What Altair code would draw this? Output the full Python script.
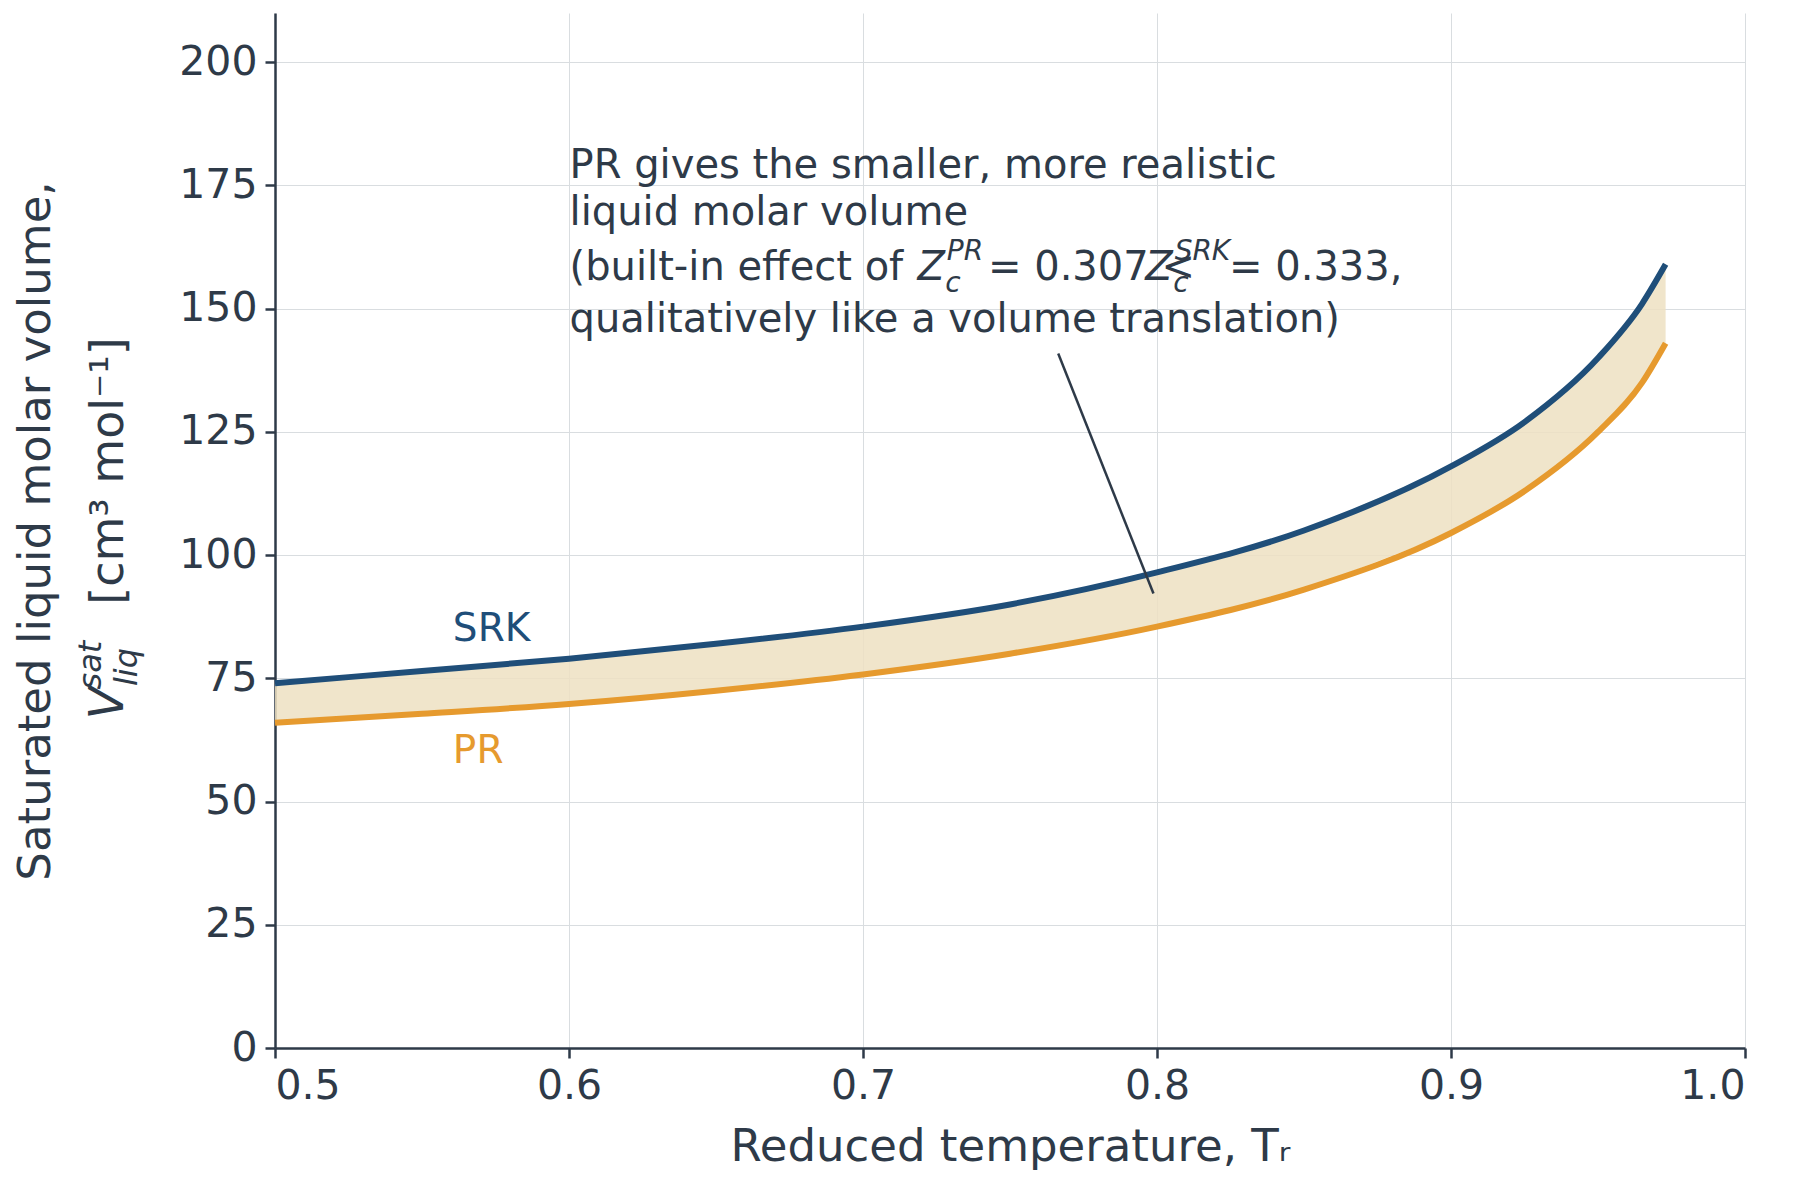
import altair as alt
import pandas as pd

TEXT = "#2E3A48"
SRK_C = "#1F4E79"
PR_C = "#E69A2E"
BAND = "#EDE1C2"
GRID = "#D9DDE0"
FONT = "DejaVu Sans"

tr = [0.5, 0.55, 0.6, 0.65, 0.7, 0.75, 0.8, 0.85, 0.9, 0.925, 0.95, 0.965, 0.973]
v_srk = [74, 76.5, 79, 82, 85.5, 90, 96.5, 105, 118, 127, 140, 151, 159]
v_pr = [66, 67.8, 69.8, 72.5, 75.8, 80, 85.5, 93, 104.5, 113, 125, 135, 143]

df = pd.DataFrame({"Tr": tr, "SRK": v_srk, "PR": v_pr})

W, H = 1470, 1035

xs = alt.Scale(domain=[0.5, 1.0], nice=False)
ys = alt.Scale(domain=[0, 210], nice=False)

x_ax = alt.Axis(values=[0.5, 0.6, 0.7, 0.8, 0.9, 1.0], format=".1f", labelFontSize=41,
                titleFontSize=45, labelColor=TEXT, titleColor=TEXT, domainColor=TEXT,
                tickColor=TEXT, tickSize=10, domainWidth=2.5, tickWidth=2.5, gridColor=GRID,
                labelPadding=8, titlePadding=18, titleFontWeight="normal", labelFont=FONT, titleFont=FONT)
y_ax = alt.Axis(values=list(range(0, 201, 25)), labelFontSize=41, titleFontSize=45,
                labelColor=TEXT, titleColor=TEXT, domainColor=TEXT, tickColor=TEXT, tickSize=10,
                domainWidth=2.5, tickWidth=2.5, gridColor=GRID, labelPadding=8, titlePadding=120,
                titleFontWeight="normal", labelFont=FONT, titleFont=FONT)

base = alt.Chart(df)
band = base.mark_area(color=BAND, opacity=0.85).encode(
    x=alt.X("Tr:Q", scale=xs, axis=x_ax, title="Reduced temperature, Tᵣ"),
    y=alt.Y("SRK:Q", scale=ys, axis=y_ax, title="Saturated liquid molar volume,"),
    y2="PR:Q",
)
srk = base.mark_line(color=SRK_C, strokeWidth=6, interpolate="monotone").encode(x="Tr:Q", y="SRK:Q")
pr = base.mark_line(color=PR_C, strokeWidth=6, interpolate="monotone").encode(x="Tr:Q", y="PR:Q")

one = pd.DataFrame({"a": [0]})


def txt(x, y, s, color=TEXT, size=40, style="normal", align="left"):
    return alt.Chart(one).mark_text(color=color, fontSize=size, font=FONT, fontStyle=style,
                                    align=align, baseline="middle").encode(
        x=alt.X("x:Q", scale=xs), y=alt.Y("y:Q", scale=ys), text=alt.value(s)
    ).transform_calculate(x=str(x), y=str(y))


def ptxt(px, py, s, size=45, style="normal"):
    return alt.Chart(one).mark_text(color=TEXT, fontSize=size, font=FONT, fontStyle=style,
                                    angle=270, align="center", baseline="middle").encode(
        x=alt.value(px), y=alt.value(py), text=alt.value(s))


labels = [
    txt(0.5605, 85, "SRK", SRK_C, 39),
    txt(0.5605, 60.3, "PR", PR_C, 39),
    txt(0.6002, 179, "PR gives the smaller, more realistic"),
    txt(0.6002, 169.4, "liquid molar volume"),
    txt(0.6002, 158.3, "(built-in effect of"),
    txt(0.7185, 158.3, "Z", style="italic"),
    txt(0.7280, 155.0, "c", size=28, style="italic"),
    txt(0.7285, 161.6, "PR", size=28, style="italic"),
    txt(0.7425, 158.3, "= 0.307 <"),
    txt(0.7960, 158.3, "Z", style="italic"),
    txt(0.8055, 155.0, "c", size=28, style="italic"),
    txt(0.8060, 161.6, "SRK", size=28, style="italic"),
    txt(0.8245, 158.3, "= 0.333,"),
    txt(0.6002, 147.8, "qualitatively like a volume translation)"),
]

arrow_df = pd.DataFrame({"x": [0.7664, 0.7988], "y": [140.9, 92.2]})
arrow = alt.Chart(arrow_df).mark_line(color=TEXT, strokeWidth=2.5).encode(
    x=alt.X("x:Q", scale=xs), y=alt.Y("y:Q", scale=ys))

ylab = [
    ptxt(-166, 690, "V", size=48, style="italic"),
    ptxt(-184, 652, "sat", size=32, style="italic"),
    ptxt(-148, 654, "liq", size=32, style="italic"),
    ptxt(-166, 458, "[cm³ mol⁻¹]", size=46),
]

chart = alt.layer(band, srk, pr, arrow, *labels, *ylab).properties(
    width=W, height=H, background="white"
).configure_view(stroke=None)

chart.save("out.html", embed_options={"renderer": "svg", "actions": False})
